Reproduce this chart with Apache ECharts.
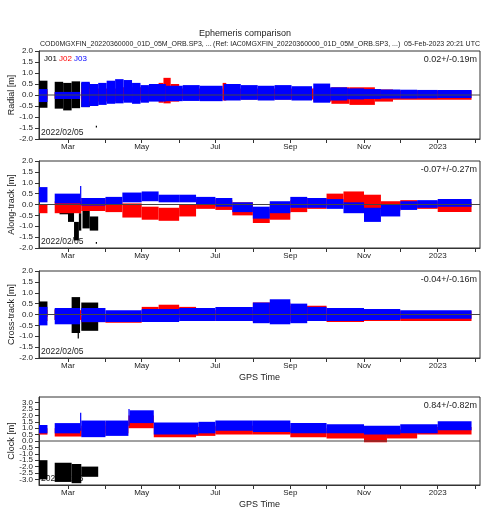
<!DOCTYPE html>
<html><head><meta charset="utf-8">
<script src="https://cdn.jsdelivr.net/npm/echarts@6/dist/echarts.min.js"></script>
<style>html,body{margin:0;padding:0;background:#fff}#c{width:490px;height:520px}</style>
</head><body><div id="c"></div>
<script>
// ---- text ----
const titleText = 'Ephemeris comparison';
const subLeft = 'COD0MGXFIN_20220360000_01D_05M_ORB.SP3, ...';
const subRight = '(Ref: IAC0MGXFIN_20220360000_01D_05M_ORB.SP3, ...)  05-Feb-2023 20:21 UTC';
const satNames = ['J01', 'J02', 'J03'];
const satColors = ['#000000', '#ff0000', '#0000ff'];
const panelNames = ['Radial [m]', 'Along-track [m]', 'Cross-track [m]', 'Clock [m]'];
const panelStats = ['0.02+/-0.19m', '-0.07+/-0.27m', '-0.04+/-0.16m', '0.84+/-0.82m'];
const startLabel = '2022/02/05';
const xName = 'GPS Time';
const xMin = '2022-02-05', xMax = '2023-02-05';
const monthTicks = ['2022-03-01','2022-04-01','2022-05-01','2022-06-01','2022-07-01','2022-08-01','2022-09-01','2022-10-01','2022-11-01','2022-12-01','2023-01-01','2023-02-01'];
const monthLabelDates = ['2022-03-01','2022-05-01','2022-07-01','2022-09-01','2022-11-01','2023-01-01'];
const monthLabelTexts = ['Mar','May','Jul','Sep','Nov','2023'];
const yTicks = [-2.0,-1.5,-1.0,-0.5,0.0,0.5,1.0,1.5,2.0];
const clockTicks = [-3.0,-2.5,-2.0,-1.5,-1.0,-0.5,0.0,0.5,1.0,1.5,2.0,2.5,3.0];

// ---- data: [start, end, low, high] envelopes of the point clouds ----
const radialJ01 = [
 ['2022-02-05','2022-02-12',-0.58,0.65],['2022-02-18','2022-02-25',-0.62,0.6],['2022-02-25','2022-03-04',-0.7,0.55],
 ['2022-03-04','2022-03-11',-0.6,0.62],['2022-03-12','2022-03-19',-0.55,0.55],['2022-03-19','2022-03-26',-0.5,0.5],
 ['2022-03-24','2022-03-25',-1.48,-1.4]];
const radialJ02 = [
 ['2022-02-05','2022-02-12',-0.2,0.2],['2022-02-18','2022-03-11',-0.15,0.12],['2022-03-12','2022-04-15',-0.3,0.3],
 ['2022-04-15','2022-05-15',-0.25,0.35],['2022-05-15','2022-05-19',-0.35,0.55],['2022-05-19','2022-05-25',-0.38,0.78],
 ['2022-05-25','2022-06-01',-0.3,0.5],['2022-06-01','2022-07-07',-0.2,0.3],['2022-07-07','2022-07-10',-0.25,0.55],
 ['2022-07-10','2022-09-20',-0.2,0.3],['2022-09-20','2022-10-05',-0.3,0.3],['2022-10-05','2022-10-20',-0.4,0.35],
 ['2022-10-20','2022-11-10',-0.45,0.35],['2022-11-10','2022-11-25',-0.3,0.25],['2022-11-25','2023-01-29',-0.22,0.2]];
const radialJ03 = [
 ['2022-02-05','2022-02-12',-0.32,0.27],['2022-02-18','2022-03-11',-0.18,0.14],['2022-03-12','2022-03-19',-0.55,0.6],
 ['2022-03-19','2022-03-26',-0.5,0.5],['2022-03-26','2022-04-02',-0.45,0.55],['2022-04-02','2022-04-09',-0.4,0.65],
 ['2022-04-09','2022-04-16',-0.38,0.72],['2022-04-16','2022-04-23',-0.35,0.68],['2022-04-23','2022-04-30',-0.4,0.55],
 ['2022-04-30','2022-05-07',-0.35,0.45],['2022-05-07','2022-05-21',-0.3,0.5],['2022-05-21','2022-06-04',-0.28,0.42],
 ['2022-06-04','2022-06-18',-0.27,0.45],['2022-06-18','2022-07-07',-0.28,0.42],['2022-07-08','2022-07-22',-0.25,0.5],
 ['2022-07-22','2022-08-05',-0.22,0.45],['2022-08-05','2022-08-19',-0.25,0.42],['2022-08-19','2022-09-02',-0.22,0.45],
 ['2022-09-02','2022-09-19',-0.25,0.4],['2022-09-20','2022-10-04',-0.35,0.52],['2022-10-04','2022-10-18',-0.25,0.35],
 ['2022-10-18','2022-11-01',-0.2,0.3],['2022-11-01','2022-11-15',-0.18,0.27],['2022-11-15','2022-12-01',-0.16,0.25],
 ['2022-12-01','2022-12-15',-0.16,0.24],['2022-12-15','2023-01-01',-0.15,0.23],['2023-01-01','2023-01-29',-0.14,0.23]];

const alongJ01 = [
 ['2022-02-22','2022-03-01',-0.45,-0.05],['2022-03-01','2022-03-06',-0.8,-0.2],['2022-03-06','2022-03-10',-1.65,-0.8],
 ['2022-03-10','2022-03-12',-1.2,-0.4],['2022-03-13','2022-03-19',-1.1,-0.3],['2022-03-19','2022-03-26',-1.2,-0.55],
 ['2022-03-24','2022-03-25',-1.8,-1.72]];
const alongJ02 = [
 ['2022-02-05','2022-02-12',-0.4,0.0],['2022-02-18','2022-03-12',-0.4,0.15],['2022-03-12','2022-04-01',-0.3,0.3],
 ['2022-04-01','2022-04-15',-0.35,0.2],['2022-04-15','2022-05-01',-0.6,0.05],['2022-05-01','2022-05-15',-0.7,-0.1],
 ['2022-05-15','2022-06-01',-0.75,-0.15],['2022-06-01','2022-06-15',-0.55,0.0],['2022-06-15','2022-07-01',-0.2,0.25],
 ['2022-07-01','2022-07-15',-0.25,0.2],['2022-07-15','2022-08-01',-0.5,0.1],['2022-08-01','2022-08-15',-0.85,-0.2],
 ['2022-08-15','2022-09-01',-0.7,0.0],['2022-09-01','2022-09-15',-0.35,0.2],['2022-09-15','2022-10-01',-0.2,0.3],
 ['2022-10-01','2022-10-15',-0.05,0.5],['2022-10-15','2022-11-01',0.05,0.6],['2022-11-01','2022-11-15',-0.2,0.45],
 ['2022-11-15','2022-12-01',-0.3,0.15],['2022-12-01','2022-12-15',-0.2,0.2],['2022-12-15','2023-01-01',-0.2,0.15],
 ['2023-01-01','2023-01-29',-0.35,0.1]];
const alongJ03 = [
 ['2022-02-05','2022-02-12',0.1,0.8],['2022-02-18','2022-03-11',0.05,0.5],['2022-03-11','2022-03-12',0.0,0.85],
 ['2022-03-12','2022-04-01',-0.05,0.3],['2022-04-01','2022-04-15',0.0,0.35],['2022-04-15','2022-05-01',0.1,0.55],
 ['2022-05-01','2022-05-15',0.15,0.6],['2022-05-15','2022-06-01',0.1,0.45],['2022-06-01','2022-06-15',0.1,0.45],
 ['2022-06-15','2022-07-01',0.0,0.35],['2022-07-01','2022-07-15',-0.1,0.3],['2022-07-15','2022-08-01',-0.35,0.1],
 ['2022-08-01','2022-08-15',-0.65,-0.1],['2022-08-15','2022-09-01',-0.4,0.15],['2022-09-01','2022-09-15',-0.15,0.35],
 ['2022-09-15','2022-10-01',-0.15,0.3],['2022-10-01','2022-10-15',-0.2,0.25],['2022-10-15','2022-11-01',-0.4,0.1],
 ['2022-11-01','2022-11-15',-0.8,-0.15],['2022-11-15','2022-12-01',-0.55,0.0],['2022-12-01','2022-12-15',-0.25,0.15],
 ['2022-12-15','2023-01-01',-0.15,0.2],['2023-01-01','2023-01-29',-0.1,0.25]];

const crossJ01 = [
 ['2022-02-05','2022-02-12',-0.1,0.6],['2022-02-18','2022-03-04',-0.25,0.25],['2022-03-04','2022-03-11',0.1,0.8],
 ['2022-03-04','2022-03-11',-0.85,-0.25],['2022-03-09','2022-03-10',-1.1,-0.85],['2022-03-12','2022-03-26',0.05,0.55],
 ['2022-03-12','2022-03-26',-0.75,-0.15]];
const crossJ02 = [
 ['2022-02-05','2022-02-12',-0.3,0.2],['2022-02-18','2022-03-12',-0.25,0.2],['2022-03-12','2022-04-01',-0.35,-0.05],
 ['2022-04-01','2022-05-01',-0.38,0.0],['2022-05-01','2022-05-15',-0.2,0.35],['2022-05-15','2022-06-01',-0.1,0.45],
 ['2022-06-01','2022-06-15',-0.15,0.35],['2022-06-15','2022-07-01',-0.2,0.2],['2022-07-01','2022-08-01',-0.3,0.2],
 ['2022-08-01','2022-09-01',-0.35,0.55],['2022-09-01','2022-10-01',-0.3,0.4],['2022-10-01','2022-11-01',-0.35,0.2],
 ['2022-11-01','2022-12-01',-0.3,0.2],['2022-12-01','2023-01-29',-0.3,0.15]];
const crossJ03 = [
 ['2022-02-05','2022-02-12',-0.5,0.35],['2022-02-18','2022-03-11',-0.45,0.3],['2022-03-12','2022-04-01',-0.35,0.3],
 ['2022-04-01','2022-05-01',-0.35,0.2],['2022-05-01','2022-06-01',-0.35,0.25],['2022-06-01','2022-07-01',-0.3,0.3],
 ['2022-07-01','2022-08-01',-0.3,0.35],['2022-08-01','2022-08-15',-0.4,0.55],['2022-08-15','2022-09-01',-0.45,0.7],
 ['2022-09-01','2022-09-15',-0.4,0.5],['2022-09-15','2022-10-01',-0.3,0.35],['2022-10-01','2022-11-01',-0.3,0.3],
 ['2022-11-01','2022-12-01',-0.25,0.25],['2022-12-01','2023-01-29',-0.2,0.2]];

const clockJ01 = [
 ['2022-02-05','2022-02-12',-3.0,-1.5],['2022-02-18','2022-03-04',-3.2,-1.7],['2022-03-04','2022-03-12',-3.3,-1.8],
 ['2022-03-12','2022-03-26',-2.8,-2.0]];
const clockJ02 = [
 ['2022-02-05','2022-02-12',0.5,1.0],['2022-02-18','2022-03-12',0.35,1.0],['2022-03-12','2022-04-01',0.4,1.2],
 ['2022-04-01','2022-04-20',0.6,1.5],['2022-04-20','2022-05-11',1.0,2.0],['2022-05-11','2022-06-15',0.3,1.1],
 ['2022-06-15','2022-07-01',0.4,1.1],['2022-07-01','2022-08-01',0.5,1.2],['2022-08-01','2022-09-01',0.5,1.2],
 ['2022-09-01','2022-10-01',0.3,1.0],['2022-10-01','2022-11-01',0.2,0.8],['2022-11-01','2022-11-20',-0.1,0.6],
 ['2022-11-20','2022-12-15',0.2,0.9],['2022-12-15','2023-01-29',0.5,1.1]];
const clockJ03 = [
 ['2022-02-05','2022-02-12',0.6,1.25],['2022-02-18','2022-03-11',0.6,1.4],['2022-03-11','2022-03-12',0.8,2.2],
 ['2022-03-12','2022-04-01',0.3,1.6],['2022-04-01','2022-04-20',0.4,1.6],['2022-04-20','2022-04-21',1.2,2.5],
 ['2022-04-21','2022-05-11',1.4,2.4],['2022-05-11','2022-06-17',0.5,1.45],['2022-06-17','2022-07-01',0.6,1.5],
 ['2022-07-01','2022-08-01',0.8,1.6],['2022-08-01','2022-09-01',0.7,1.6],['2022-09-01','2022-10-01',0.6,1.4],
 ['2022-10-01','2022-11-01',0.6,1.3],['2022-11-01','2022-12-01',0.5,1.2],['2022-12-01','2023-01-01',0.6,1.3],
 ['2023-01-01','2023-01-29',0.85,1.55]];

const panelData = [
 [radialJ01, radialJ02, radialJ03],
 [alongJ01, alongJ02, alongJ03],
 [crossJ01, crossJ02, crossJ03],
 [clockJ01, clockJ02, clockJ03]];

// ---- layout ----
const grids = [
 {left:39, width:441, top:51, height:88},
 {left:39, width:441, top:161, height:87},
 {left:39, width:441, top:271, height:87},
 {left:39, width:441, top:397, height:88}];
const FONT = 'Liberation Sans, Arial, sans-serif';
const ts = s => Date.parse(s + 'T00:00:00Z');
const labelMap = {};
monthLabelDates.forEach((d, k) => { labelMap[ts(d)] = monthLabelTexts[k]; });

const xAxes = grids.map((g, i) => ({
  type:'value', gridIndex:i, min: ts(xMin), max: ts(xMax),
  name: (i >= 2 ? xName : ''), nameLocation:'middle', nameGap: 15,
  nameTextStyle:{fontFamily:FONT, fontSize:9, color:'#222'},
  axisLine:{show:true, onZero:false, lineStyle:{color:'#333', width:1}},
  axisTick:{show:true, inside:false, length:4, lineStyle:{color:'#333'}, customValues: monthTicks.map(ts)},
  axisLabel:{show:true, fontFamily:FONT, fontSize:8, color:'#222', margin:4, hideOverlap:false,
    customValues: monthLabelDates.map(ts), formatter: v => labelMap[v] || ''},
  splitLine:{show:false}
}));

const yAxes = grids.map((g, i) => {
  const isClock = i === 3;
  const ticks = isClock ? clockTicks : yTicks;
  return {
    type:'value', gridIndex:i, min: isClock ? -3.44 : -2, max: isClock ? 3.44 : 2,
    axisLine:{show:true, onZero:false, lineStyle:{color:'#333'}},
    axisTick:{show:true, length:4, lineStyle:{color:'#333'}, customValues: ticks},
    axisLabel:{show: !isClock, fontFamily:FONT, fontSize:8, color:'#222', margin:6, hideOverlap:false,
      customValues: ticks, formatter: v => Number(v).toFixed(1)},
    splitLine:{show:false}
  };
});

function makeRender(color) {
  return function (params, api) {
    const p1 = api.coord([api.value(0), api.value(3)]);
    const p2 = api.coord([api.value(1), api.value(2)]);
    return {type:'rect', shape:{x:p1[0], y:p1[1], width:Math.max(1, p2[0]-p1[0]), height:Math.max(1, p2[1]-p1[1])},
            style:{fill: color}};
  };
}

const series = [];
panelData.forEach((sats, i) => {
  sats.forEach((arr, k) => {
    series.push({
      type:'custom', name: satNames[k], xAxisIndex:i, yAxisIndex:i, clip:true, silent:true,
      renderItem: makeRender(satColors[k]),
      encode:{x:[0,1], y:[2,3]},
      data: arr.map(r => [ts(r[0]), ts(r[1]), r[2], r[3]]),
      z: 2 + k
    });
  });
  series.push({
    type:'line', xAxisIndex:i, yAxisIndex:i, silent:true, symbol:'none', z:10,
    lineStyle:{color:'#444', width:1},
    data:[[ts(xMin), 0], [ts(xMax), 0]]
  });
});

const chart = echarts.init(document.getElementById('c'), null, {renderer:'canvas'});
chart.setOption({
  animation:false, backgroundColor:'#fff',
  grid: grids.map(g => Object.assign({show:true, borderColor:'#333', borderWidth:1, backgroundColor:'transparent',
    containLabel:false, outerBoundsMode:'none'}, g)),
  xAxis: xAxes, yAxis: yAxes, series
});

const graphic = [
  {type:'text', left:'center', top:29, style:{text:titleText, font:'9px '+FONT, fill:'#222'}},
  {type:'text', left:40, top:41, style:{text:subLeft, font:'7px '+FONT, fill:'#222'}},
  {type:'text', right:10, top:41, style:{text:subRight, font:'7px '+FONT, fill:'#222'}}
];
let lx = 44;
satNames.forEach((n, k) => {
  graphic.push({type:'text', left:lx, top:55, z:20, style:{text:n, font:'8px '+FONT, fill:satColors[k]}});
  lx += 15;
});
grids.forEach((g, i) => {
  graphic.push({type:'text', right:13, top:g.top+4, z:20, style:{text:panelStats[i], font:'9px '+FONT, fill:'#222'}});
  graphic.push({type:'text', left:41, top:g.top+g.height-11, z:1, style:{text:startLabel, font:'8.5px '+FONT, fill:'#222'}});
  graphic.push({type:'text', x:12, y:g.top + g.height/2, rotation:Math.PI/2, z:20,
    style:{text:panelNames[i], font:'9px '+FONT, fill:'#222', align:'center', verticalAlign:'middle'}});
});
// clock axis labels (dense, allowed to overlap as in the original)
clockTicks.forEach(v => {
  const py = chart.convertToPixel({yAxisIndex:3}, v);
  graphic.push({type:'text', x: grids[3].left - 6, y: py, z:20,
    style:{text: v.toFixed(1), font:'8px '+FONT, fill:'#222', align:'right', verticalAlign:'middle'}});
});
chart.setOption({graphic});
</script></body></html>
